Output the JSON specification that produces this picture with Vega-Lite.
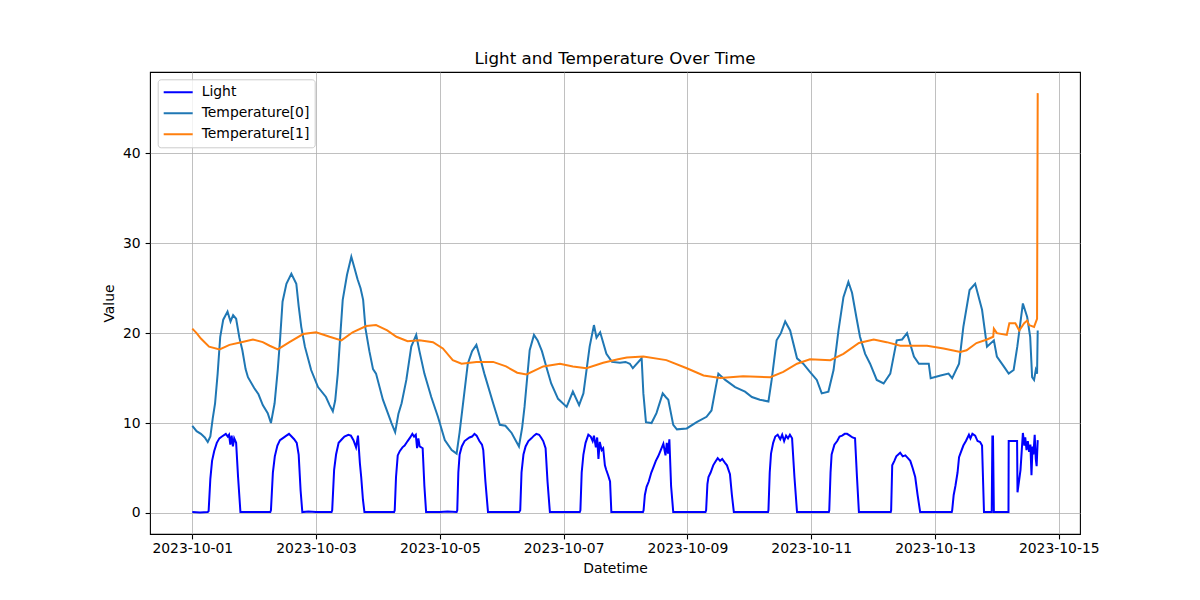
{
"$schema": "https://vega.github.io/schema/vega-lite/v6.json",
"width": 930, "height": 462,
"autosize": {"type": "none"},
"padding": {"left": 150, "top": 72, "right": 120, "bottom": 66},
"background": "white",
"title": {"text": "Light and Temperature Over Time", "fontSize": 16.7, "font": "DejaVu Sans", "fontWeight": "normal", "color": "black", "anchor": "middle", "offset": 4},
"config": {"view": {"stroke": "black", "strokeWidth": 1.1}, "font": "DejaVu Sans"},
"datasets": {
"rows": [
{"Datetime":"2023-10-01T00:00","Series":"Light","Value":0.1},{"Datetime":"2023-10-01T03:00","Series":"Light","Value":0.05},{"Datetime":"2023-10-01T06:00","Series":"Light","Value":0.1},{"Datetime":"2023-10-01T06:20","Series":"Light","Value":0.2},{"Datetime":"2023-10-01T07:00","Series":"Light","Value":3.8},{"Datetime":"2023-10-01T07:40","Series":"Light","Value":5.8},{"Datetime":"2023-10-01T08:30","Series":"Light","Value":6.9},{"Datetime":"2023-10-01T09:30","Series":"Light","Value":7.8},{"Datetime":"2023-10-01T10:30","Series":"Light","Value":8.3},{"Datetime":"2023-10-01T11:30","Series":"Light","Value":8.5},{"Datetime":"2023-10-01T13:00","Series":"Light","Value":8.8},{"Datetime":"2023-10-01T13:45","Series":"Light","Value":8.5},{"Datetime":"2023-10-01T14:15","Series":"Light","Value":8.7},{"Datetime":"2023-10-01T14:45","Series":"Light","Value":7.6},{"Datetime":"2023-10-01T15:15","Series":"Light","Value":8.6},{"Datetime":"2023-10-01T15:45","Series":"Light","Value":7.4},{"Datetime":"2023-10-01T16:15","Series":"Light","Value":8.3},{"Datetime":"2023-10-01T17:00","Series":"Light","Value":7.8},{"Datetime":"2023-10-01T17:45","Series":"Light","Value":4.0},{"Datetime":"2023-10-01T18:40","Series":"Light","Value":0.1},{"Datetime":"2023-10-01T21:00","Series":"Light","Value":0.1},
{"Datetime":"2023-10-02T00:00","Series":"Light","Value":0.1},{"Datetime":"2023-10-02T03:00","Series":"Light","Value":0.1},{"Datetime":"2023-10-02T06:15","Series":"Light","Value":0.1},{"Datetime":"2023-10-02T06:30","Series":"Light","Value":0.3},{"Datetime":"2023-10-02T07:15","Series":"Light","Value":4.5},{"Datetime":"2023-10-02T08:00","Series":"Light","Value":6.3},{"Datetime":"2023-10-02T09:00","Series":"Light","Value":7.5},{"Datetime":"2023-10-02T10:00","Series":"Light","Value":8.1},{"Datetime":"2023-10-02T11:00","Series":"Light","Value":8.3},{"Datetime":"2023-10-02T12:30","Series":"Light","Value":8.6},{"Datetime":"2023-10-02T13:30","Series":"Light","Value":8.8},{"Datetime":"2023-10-02T14:30","Series":"Light","Value":8.5},{"Datetime":"2023-10-02T15:30","Series":"Light","Value":8.2},{"Datetime":"2023-10-02T16:30","Series":"Light","Value":7.8},{"Datetime":"2023-10-02T17:15","Series":"Light","Value":6.5},{"Datetime":"2023-10-02T18:00","Series":"Light","Value":2.5},{"Datetime":"2023-10-02T18:40","Series":"Light","Value":0.1},{"Datetime":"2023-10-02T21:00","Series":"Light","Value":0.15},
{"Datetime":"2023-10-03T00:00","Series":"Light","Value":0.1},{"Datetime":"2023-10-03T03:00","Series":"Light","Value":0.1},{"Datetime":"2023-10-03T06:00","Series":"Light","Value":0.1},{"Datetime":"2023-10-03T06:15","Series":"Light","Value":0.3},{"Datetime":"2023-10-03T07:00","Series":"Light","Value":4.8},{"Datetime":"2023-10-03T07:45","Series":"Light","Value":6.5},{"Datetime":"2023-10-03T08:45","Series":"Light","Value":7.8},{"Datetime":"2023-10-03T10:00","Series":"Light","Value":8.2},{"Datetime":"2023-10-03T11:00","Series":"Light","Value":8.5},{"Datetime":"2023-10-03T12:30","Series":"Light","Value":8.7},{"Datetime":"2023-10-03T13:30","Series":"Light","Value":8.6},{"Datetime":"2023-10-03T14:30","Series":"Light","Value":8.1},{"Datetime":"2023-10-03T15:30","Series":"Light","Value":7.3},{"Datetime":"2023-10-03T16:15","Series":"Light","Value":8.6},{"Datetime":"2023-10-03T17:00","Series":"Light","Value":5.5},{"Datetime":"2023-10-03T17:30","Series":"Light","Value":4.0},{"Datetime":"2023-10-03T18:10","Series":"Light","Value":1.5},{"Datetime":"2023-10-03T18:45","Series":"Light","Value":0.1},{"Datetime":"2023-10-03T21:00","Series":"Light","Value":0.1},
{"Datetime":"2023-10-04T00:00","Series":"Light","Value":0.1},{"Datetime":"2023-10-04T03:00","Series":"Light","Value":0.1},{"Datetime":"2023-10-04T06:15","Series":"Light","Value":0.1},{"Datetime":"2023-10-04T06:30","Series":"Light","Value":0.3},{"Datetime":"2023-10-04T07:00","Series":"Light","Value":4.0},{"Datetime":"2023-10-04T07:40","Series":"Light","Value":6.4},{"Datetime":"2023-10-04T08:30","Series":"Light","Value":6.9},{"Datetime":"2023-10-04T09:30","Series":"Light","Value":7.3},{"Datetime":"2023-10-04T10:20","Series":"Light","Value":7.5},{"Datetime":"2023-10-04T11:30","Series":"Light","Value":8.0},{"Datetime":"2023-10-04T12:30","Series":"Light","Value":8.4},{"Datetime":"2023-10-04T13:20","Series":"Light","Value":8.8},{"Datetime":"2023-10-04T14:00","Series":"Light","Value":8.5},{"Datetime":"2023-10-04T14:40","Series":"Light","Value":8.7},{"Datetime":"2023-10-04T15:10","Series":"Light","Value":7.2},{"Datetime":"2023-10-04T15:40","Series":"Light","Value":8.3},{"Datetime":"2023-10-04T16:10","Series":"Light","Value":7.4},{"Datetime":"2023-10-04T17:20","Series":"Light","Value":7.2},{"Datetime":"2023-10-04T18:00","Series":"Light","Value":3.0},{"Datetime":"2023-10-04T18:40","Series":"Light","Value":0.1},{"Datetime":"2023-10-04T21:00","Series":"Light","Value":0.1},
{"Datetime":"2023-10-05T00:00","Series":"Light","Value":0.1},{"Datetime":"2023-10-05T03:00","Series":"Light","Value":0.15},{"Datetime":"2023-10-05T06:30","Series":"Light","Value":0.1},{"Datetime":"2023-10-05T06:45","Series":"Light","Value":0.3},{"Datetime":"2023-10-05T07:10","Series":"Light","Value":4.5},{"Datetime":"2023-10-05T07:40","Series":"Light","Value":6.5},{"Datetime":"2023-10-05T08:30","Series":"Light","Value":7.4},{"Datetime":"2023-10-05T09:35","Series":"Light","Value":8.0},{"Datetime":"2023-10-05T10:30","Series":"Light","Value":8.2},{"Datetime":"2023-10-05T11:30","Series":"Light","Value":8.4},{"Datetime":"2023-10-05T12:30","Series":"Light","Value":8.5},{"Datetime":"2023-10-05T13:25","Series":"Light","Value":8.8},{"Datetime":"2023-10-05T14:15","Series":"Light","Value":8.6},{"Datetime":"2023-10-05T15:20","Series":"Light","Value":8.0},{"Datetime":"2023-10-05T16:20","Series":"Light","Value":7.6},{"Datetime":"2023-10-05T16:50","Series":"Light","Value":7.0},{"Datetime":"2023-10-05T17:40","Series":"Light","Value":3.5},{"Datetime":"2023-10-05T18:40","Series":"Light","Value":0.1},{"Datetime":"2023-10-05T21:00","Series":"Light","Value":0.1},
{"Datetime":"2023-10-06T00:00","Series":"Light","Value":0.1},{"Datetime":"2023-10-06T03:00","Series":"Light","Value":0.1},{"Datetime":"2023-10-06T06:45","Series":"Light","Value":0.1},{"Datetime":"2023-10-06T07:10","Series":"Light","Value":0.3},{"Datetime":"2023-10-06T07:40","Series":"Light","Value":4.5},{"Datetime":"2023-10-06T08:25","Series":"Light","Value":6.5},{"Datetime":"2023-10-06T09:15","Series":"Light","Value":7.4},{"Datetime":"2023-10-06T10:20","Series":"Light","Value":8.0},{"Datetime":"2023-10-06T11:30","Series":"Light","Value":8.3},{"Datetime":"2023-10-06T12:30","Series":"Light","Value":8.6},{"Datetime":"2023-10-06T13:25","Series":"Light","Value":8.8},{"Datetime":"2023-10-06T14:30","Series":"Light","Value":8.7},{"Datetime":"2023-10-06T15:15","Series":"Light","Value":8.4},{"Datetime":"2023-10-06T16:05","Series":"Light","Value":8.0},{"Datetime":"2023-10-06T17:00","Series":"Light","Value":7.2},{"Datetime":"2023-10-06T17:45","Series":"Light","Value":3.5},{"Datetime":"2023-10-06T18:40","Series":"Light","Value":0.1},{"Datetime":"2023-10-06T21:00","Series":"Light","Value":0.1},
{"Datetime":"2023-10-07T00:00","Series":"Light","Value":0.1},{"Datetime":"2023-10-07T03:00","Series":"Light","Value":0.1},{"Datetime":"2023-10-07T06:15","Series":"Light","Value":0.1},{"Datetime":"2023-10-07T06:30","Series":"Light","Value":0.3},{"Datetime":"2023-10-07T07:00","Series":"Light","Value":4.5},{"Datetime":"2023-10-07T07:40","Series":"Light","Value":6.5},{"Datetime":"2023-10-07T08:30","Series":"Light","Value":7.8},{"Datetime":"2023-10-07T09:35","Series":"Light","Value":8.7},{"Datetime":"2023-10-07T10:30","Series":"Light","Value":8.5},{"Datetime":"2023-10-07T11:15","Series":"Light","Value":8.0},{"Datetime":"2023-10-07T11:45","Series":"Light","Value":8.6},{"Datetime":"2023-10-07T12:30","Series":"Light","Value":7.3},{"Datetime":"2023-10-07T13:00","Series":"Light","Value":8.4},{"Datetime":"2023-10-07T13:30","Series":"Light","Value":6.0},{"Datetime":"2023-10-07T14:00","Series":"Light","Value":7.9},{"Datetime":"2023-10-07T14:45","Series":"Light","Value":7.0},{"Datetime":"2023-10-07T15:20","Series":"Light","Value":7.2},{"Datetime":"2023-10-07T16:00","Series":"Light","Value":5.3},{"Datetime":"2023-10-07T16:30","Series":"Light","Value":4.8},{"Datetime":"2023-10-07T17:15","Series":"Light","Value":4.2},{"Datetime":"2023-10-07T18:00","Series":"Light","Value":3.5},{"Datetime":"2023-10-07T18:30","Series":"Light","Value":0.1},{"Datetime":"2023-10-07T21:00","Series":"Light","Value":0.1},
{"Datetime":"2023-10-08T00:00","Series":"Light","Value":0.1},{"Datetime":"2023-10-08T03:00","Series":"Light","Value":0.1},{"Datetime":"2023-10-08T06:45","Series":"Light","Value":0.1},{"Datetime":"2023-10-08T07:00","Series":"Light","Value":0.3},{"Datetime":"2023-10-08T07:30","Series":"Light","Value":2.0},{"Datetime":"2023-10-08T08:10","Series":"Light","Value":2.9},{"Datetime":"2023-10-08T09:00","Series":"Light","Value":3.5},{"Datetime":"2023-10-08T10:00","Series":"Light","Value":4.5},{"Datetime":"2023-10-08T10:50","Series":"Light","Value":5.1},{"Datetime":"2023-10-08T11:45","Series":"Light","Value":5.8},{"Datetime":"2023-10-08T12:40","Series":"Light","Value":6.3},{"Datetime":"2023-10-08T13:40","Series":"Light","Value":7.0},{"Datetime":"2023-10-08T14:40","Series":"Light","Value":7.7},{"Datetime":"2023-10-08T15:30","Series":"Light","Value":6.4},{"Datetime":"2023-10-08T16:00","Series":"Light","Value":7.8},{"Datetime":"2023-10-08T16:30","Series":"Light","Value":6.6},{"Datetime":"2023-10-08T17:00","Series":"Light","Value":8.2},{"Datetime":"2023-10-08T17:40","Series":"Light","Value":3.0},{"Datetime":"2023-10-08T18:30","Series":"Light","Value":0.1},{"Datetime":"2023-10-08T21:00","Series":"Light","Value":0.1},
{"Datetime":"2023-10-09T00:00","Series":"Light","Value":0.1},{"Datetime":"2023-10-09T03:00","Series":"Light","Value":0.1},{"Datetime":"2023-10-09T07:00","Series":"Light","Value":0.1},{"Datetime":"2023-10-09T07:15","Series":"Light","Value":0.3},{"Datetime":"2023-10-09T07:45","Series":"Light","Value":3.2},{"Datetime":"2023-10-09T08:10","Series":"Light","Value":4.0},{"Datetime":"2023-10-09T09:00","Series":"Light","Value":4.5},{"Datetime":"2023-10-09T10:00","Series":"Light","Value":5.3},{"Datetime":"2023-10-09T10:50","Series":"Light","Value":5.7},{"Datetime":"2023-10-09T11:45","Series":"Light","Value":6.1},{"Datetime":"2023-10-09T12:40","Series":"Light","Value":5.8},{"Datetime":"2023-10-09T13:30","Series":"Light","Value":6.0},{"Datetime":"2023-10-09T14:30","Series":"Light","Value":5.6},{"Datetime":"2023-10-09T15:20","Series":"Light","Value":5.3},{"Datetime":"2023-10-09T16:30","Series":"Light","Value":4.3},{"Datetime":"2023-10-09T17:15","Series":"Light","Value":2.0},{"Datetime":"2023-10-09T18:00","Series":"Light","Value":0.1},{"Datetime":"2023-10-09T21:00","Series":"Light","Value":0.1},
{"Datetime":"2023-10-10T00:00","Series":"Light","Value":0.1},{"Datetime":"2023-10-10T03:00","Series":"Light","Value":0.1},{"Datetime":"2023-10-10T07:15","Series":"Light","Value":0.1},{"Datetime":"2023-10-10T07:25","Series":"Light","Value":0.3},{"Datetime":"2023-10-10T07:55","Series":"Light","Value":4.5},{"Datetime":"2023-10-10T08:25","Series":"Light","Value":6.6},{"Datetime":"2023-10-10T09:15","Series":"Light","Value":7.8},{"Datetime":"2023-10-10T10:05","Series":"Light","Value":8.5},{"Datetime":"2023-10-10T11:00","Series":"Light","Value":8.7},{"Datetime":"2023-10-10T12:00","Series":"Light","Value":8.2},{"Datetime":"2023-10-10T12:45","Series":"Light","Value":8.7},{"Datetime":"2023-10-10T13:30","Series":"Light","Value":8.0},{"Datetime":"2023-10-10T14:15","Series":"Light","Value":8.6},{"Datetime":"2023-10-10T15:00","Series":"Light","Value":8.3},{"Datetime":"2023-10-10T15:45","Series":"Light","Value":8.7},{"Datetime":"2023-10-10T16:35","Series":"Light","Value":8.3},{"Datetime":"2023-10-10T17:30","Series":"Light","Value":4.0},{"Datetime":"2023-10-10T18:30","Series":"Light","Value":0.1},{"Datetime":"2023-10-10T21:00","Series":"Light","Value":0.1},
{"Datetime":"2023-10-11T00:00","Series":"Light","Value":0.1},{"Datetime":"2023-10-11T03:00","Series":"Light","Value":0.1},{"Datetime":"2023-10-11T06:50","Series":"Light","Value":0.1},{"Datetime":"2023-10-11T07:00","Series":"Light","Value":0.3},{"Datetime":"2023-10-11T07:30","Series":"Light","Value":4.5},{"Datetime":"2023-10-11T07:55","Series":"Light","Value":6.5},{"Datetime":"2023-10-11T09:00","Series":"Light","Value":7.6},{"Datetime":"2023-10-11T10:05","Series":"Light","Value":8.0},{"Datetime":"2023-10-11T11:00","Series":"Light","Value":8.5},{"Datetime":"2023-10-11T12:00","Series":"Light","Value":8.6},{"Datetime":"2023-10-11T13:00","Series":"Light","Value":8.8},{"Datetime":"2023-10-11T13:55","Series":"Light","Value":8.8},{"Datetime":"2023-10-11T15:00","Series":"Light","Value":8.6},{"Datetime":"2023-10-11T16:00","Series":"Light","Value":8.4},{"Datetime":"2023-10-11T17:00","Series":"Light","Value":8.3},{"Datetime":"2023-10-11T17:45","Series":"Light","Value":4.0},{"Datetime":"2023-10-11T18:30","Series":"Light","Value":0.1},{"Datetime":"2023-10-11T21:00","Series":"Light","Value":0.1},
{"Datetime":"2023-10-12T00:00","Series":"Light","Value":0.1},{"Datetime":"2023-10-12T03:00","Series":"Light","Value":0.1},{"Datetime":"2023-10-12T06:50","Series":"Light","Value":0.1},{"Datetime":"2023-10-12T07:00","Series":"Light","Value":0.3},{"Datetime":"2023-10-12T07:25","Series":"Light","Value":5.3},{"Datetime":"2023-10-12T08:15","Series":"Light","Value":5.8},{"Datetime":"2023-10-12T09:00","Series":"Light","Value":6.3},{"Datetime":"2023-10-12T10:30","Series":"Light","Value":6.7},{"Datetime":"2023-10-12T11:30","Series":"Light","Value":6.3},{"Datetime":"2023-10-12T12:30","Series":"Light","Value":6.4},{"Datetime":"2023-10-12T13:30","Series":"Light","Value":6.1},{"Datetime":"2023-10-12T14:25","Series":"Light","Value":5.8},{"Datetime":"2023-10-12T15:20","Series":"Light","Value":5.0},{"Datetime":"2023-10-12T16:20","Series":"Light","Value":4.0},{"Datetime":"2023-10-12T17:15","Series":"Light","Value":2.0},{"Datetime":"2023-10-12T18:15","Series":"Light","Value":0.1},{"Datetime":"2023-10-12T21:00","Series":"Light","Value":0.1},
{"Datetime":"2023-10-13T00:00","Series":"Light","Value":0.1},{"Datetime":"2023-10-13T03:00","Series":"Light","Value":0.1},{"Datetime":"2023-10-13T06:30","Series":"Light","Value":0.1},{"Datetime":"2023-10-13T06:40","Series":"Light","Value":0.3},{"Datetime":"2023-10-13T07:15","Series":"Light","Value":2.0},{"Datetime":"2023-10-13T07:55","Series":"Light","Value":3.0},{"Datetime":"2023-10-13T08:45","Series":"Light","Value":4.5},{"Datetime":"2023-10-13T09:20","Series":"Light","Value":6.2},{"Datetime":"2023-10-13T09:50","Series":"Light","Value":6.6},{"Datetime":"2023-10-13T11:00","Series":"Light","Value":7.5},{"Datetime":"2023-10-13T12:00","Series":"Light","Value":8.0},{"Datetime":"2023-10-13T13:10","Series":"Light","Value":8.7},{"Datetime":"2023-10-13T13:45","Series":"Light","Value":8.3},{"Datetime":"2023-10-13T14:30","Series":"Light","Value":8.8},{"Datetime":"2023-10-13T15:35","Series":"Light","Value":8.6},{"Datetime":"2023-10-13T16:30","Series":"Light","Value":8.0},{"Datetime":"2023-10-13T17:30","Series":"Light","Value":7.9},{"Datetime":"2023-10-13T18:15","Series":"Light","Value":7.5},{"Datetime":"2023-10-13T19:00","Series":"Light","Value":0.1},{"Datetime":"2023-10-13T22:00","Series":"Light","Value":0.1},{"Datetime":"2023-10-13T22:15","Series":"Light","Value":8.5},{"Datetime":"2023-10-13T22:30","Series":"Light","Value":8.5},{"Datetime":"2023-10-13T22:50","Series":"Light","Value":0.1},
{"Datetime":"2023-10-14T00:00","Series":"Light","Value":0.1},{"Datetime":"2023-10-14T03:00","Series":"Light","Value":0.1},{"Datetime":"2023-10-14T04:30","Series":"Light","Value":0.1},{"Datetime":"2023-10-14T04:35","Series":"Light","Value":8.0},{"Datetime":"2023-10-14T06:00","Series":"Light","Value":8.0},{"Datetime":"2023-10-14T07:50","Series":"Light","Value":8.0},{"Datetime":"2023-10-14T08:00","Series":"Light","Value":2.3},{"Datetime":"2023-10-14T09:10","Series":"Light","Value":4.8},{"Datetime":"2023-10-14T10:05","Series":"Light","Value":8.9},{"Datetime":"2023-10-14T10:40","Series":"Light","Value":7.5},{"Datetime":"2023-10-14T11:00","Series":"Light","Value":8.4},{"Datetime":"2023-10-14T11:30","Series":"Light","Value":7.0},{"Datetime":"2023-10-14T12:00","Series":"Light","Value":8.0},{"Datetime":"2023-10-14T12:30","Series":"Light","Value":6.8},{"Datetime":"2023-10-14T13:00","Series":"Light","Value":7.6},{"Datetime":"2023-10-14T13:25","Series":"Light","Value":4.2},{"Datetime":"2023-10-14T13:50","Series":"Light","Value":7.4},{"Datetime":"2023-10-14T14:10","Series":"Light","Value":6.5},{"Datetime":"2023-10-14T14:40","Series":"Light","Value":8.7},{"Datetime":"2023-10-14T15:05","Series":"Light","Value":6.0},{"Datetime":"2023-10-14T15:25","Series":"Light","Value":5.2},{"Datetime":"2023-10-14T15:50","Series":"Light","Value":8.1},
{"Datetime":"2023-10-01T00:00","Series":"Temperature[0]","Value":9.7},{"Datetime":"2023-10-01T01:40","Series":"Temperature[0]","Value":9.1},{"Datetime":"2023-10-01T03:20","Series":"Temperature[0]","Value":8.8},{"Datetime":"2023-10-01T04:50","Series":"Temperature[0]","Value":8.4},{"Datetime":"2023-10-01T06:00","Series":"Temperature[0]","Value":7.9},{"Datetime":"2023-10-01T07:00","Series":"Temperature[0]","Value":8.5},{"Datetime":"2023-10-01T07:55","Series":"Temperature[0]","Value":10.5},{"Datetime":"2023-10-01T08:50","Series":"Temperature[0]","Value":12.2},{"Datetime":"2023-10-01T09:50","Series":"Temperature[0]","Value":15.5},{"Datetime":"2023-10-01T10:50","Series":"Temperature[0]","Value":19.6},{"Datetime":"2023-10-01T12:00","Series":"Temperature[0]","Value":21.5},{"Datetime":"2023-10-01T13:40","Series":"Temperature[0]","Value":22.4},{"Datetime":"2023-10-01T14:50","Series":"Temperature[0]","Value":21.3},{"Datetime":"2023-10-01T15:50","Series":"Temperature[0]","Value":22.0},{"Datetime":"2023-10-01T17:00","Series":"Temperature[0]","Value":21.6},{"Datetime":"2023-10-01T18:15","Series":"Temperature[0]","Value":19.5},{"Datetime":"2023-10-01T19:25","Series":"Temperature[0]","Value":18.1},{"Datetime":"2023-10-01T20:40","Series":"Temperature[0]","Value":16.0},{"Datetime":"2023-10-01T21:35","Series":"Temperature[0]","Value":15.1},
{"Datetime":"2023-10-02T00:00","Series":"Temperature[0]","Value":13.9},{"Datetime":"2023-10-02T01:40","Series":"Temperature[0]","Value":13.2},{"Datetime":"2023-10-02T03:20","Series":"Temperature[0]","Value":12.0},{"Datetime":"2023-10-02T05:15","Series":"Temperature[0]","Value":11.1},{"Datetime":"2023-10-02T06:30","Series":"Temperature[0]","Value":10.0},{"Datetime":"2023-10-02T07:55","Series":"Temperature[0]","Value":12.2},{"Datetime":"2023-10-02T09:10","Series":"Temperature[0]","Value":16.0},{"Datetime":"2023-10-02T10:05","Series":"Temperature[0]","Value":19.5},{"Datetime":"2023-10-02T11:00","Series":"Temperature[0]","Value":23.5},{"Datetime":"2023-10-02T12:30","Series":"Temperature[0]","Value":25.5},{"Datetime":"2023-10-02T14:25","Series":"Temperature[0]","Value":26.6},{"Datetime":"2023-10-02T16:20","Series":"Temperature[0]","Value":25.5},{"Datetime":"2023-10-02T17:15","Series":"Temperature[0]","Value":23.0},{"Datetime":"2023-10-02T18:15","Series":"Temperature[0]","Value":20.7},{"Datetime":"2023-10-02T19:40","Series":"Temperature[0]","Value":18.5},{"Datetime":"2023-10-02T22:05","Series":"Temperature[0]","Value":15.9},
{"Datetime":"2023-10-03T00:45","Series":"Temperature[0]","Value":14.0},{"Datetime":"2023-10-03T03:50","Series":"Temperature[0]","Value":12.9},{"Datetime":"2023-10-03T05:15","Series":"Temperature[0]","Value":12.0},{"Datetime":"2023-10-03T06:30","Series":"Temperature[0]","Value":11.3},{"Datetime":"2023-10-03T07:25","Series":"Temperature[0]","Value":12.5},{"Datetime":"2023-10-03T08:25","Series":"Temperature[0]","Value":15.5},{"Datetime":"2023-10-03T09:20","Series":"Temperature[0]","Value":19.5},{"Datetime":"2023-10-03T10:20","Series":"Temperature[0]","Value":23.7},{"Datetime":"2023-10-03T12:00","Series":"Temperature[0]","Value":26.5},{"Datetime":"2023-10-03T13:40","Series":"Temperature[0]","Value":28.5},{"Datetime":"2023-10-03T14:50","Series":"Temperature[0]","Value":27.3},{"Datetime":"2023-10-03T16:05","Series":"Temperature[0]","Value":26.0},{"Datetime":"2023-10-03T17:15","Series":"Temperature[0]","Value":25.0},{"Datetime":"2023-10-03T18:15","Series":"Temperature[0]","Value":23.7},{"Datetime":"2023-10-03T19:10","Series":"Temperature[0]","Value":20.5},{"Datetime":"2023-10-03T20:40","Series":"Temperature[0]","Value":18.0},{"Datetime":"2023-10-03T22:05","Series":"Temperature[0]","Value":16.0},{"Datetime":"2023-10-03T23:15","Series":"Temperature[0]","Value":15.5},
{"Datetime":"2023-10-04T01:55","Series":"Temperature[0]","Value":12.6},{"Datetime":"2023-10-04T03:50","Series":"Temperature[0]","Value":11.1},{"Datetime":"2023-10-04T05:15","Series":"Temperature[0]","Value":10.0},{"Datetime":"2023-10-04T06:40","Series":"Temperature[0]","Value":9.0},{"Datetime":"2023-10-04T07:55","Series":"Temperature[0]","Value":11.0},{"Datetime":"2023-10-04T09:10","Series":"Temperature[0]","Value":12.2},{"Datetime":"2023-10-04T11:00","Series":"Temperature[0]","Value":14.8},{"Datetime":"2023-10-04T12:55","Series":"Temperature[0]","Value":18.5},{"Datetime":"2023-10-04T14:50","Series":"Temperature[0]","Value":19.8},{"Datetime":"2023-10-04T16:05","Series":"Temperature[0]","Value":18.0},{"Datetime":"2023-10-04T18:00","Series":"Temperature[0]","Value":15.5},{"Datetime":"2023-10-04T20:40","Series":"Temperature[0]","Value":12.9},{"Datetime":"2023-10-04T23:15","Series":"Temperature[0]","Value":10.7},
{"Datetime":"2023-10-05T01:55","Series":"Temperature[0]","Value":8.1},{"Datetime":"2023-10-05T04:35","Series":"Temperature[0]","Value":7.0},{"Datetime":"2023-10-05T06:30","Series":"Temperature[0]","Value":6.6},{"Datetime":"2023-10-05T07:40","Series":"Temperature[0]","Value":9.0},{"Datetime":"2023-10-05T08:50","Series":"Temperature[0]","Value":11.8},{"Datetime":"2023-10-05T10:50","Series":"Temperature[0]","Value":16.6},{"Datetime":"2023-10-05T12:30","Series":"Temperature[0]","Value":18.0},{"Datetime":"2023-10-05T14:10","Series":"Temperature[0]","Value":18.7},{"Datetime":"2023-10-05T15:35","Series":"Temperature[0]","Value":17.3},{"Datetime":"2023-10-05T17:15","Series":"Temperature[0]","Value":15.5},{"Datetime":"2023-10-05T20:40","Series":"Temperature[0]","Value":12.2},{"Datetime":"2023-10-05T23:15","Series":"Temperature[0]","Value":9.8},
{"Datetime":"2023-10-06T01:25","Series":"Temperature[0]","Value":9.7},{"Datetime":"2023-10-06T03:50","Series":"Temperature[0]","Value":8.9},{"Datetime":"2023-10-06T06:40","Series":"Temperature[0]","Value":7.4},{"Datetime":"2023-10-06T07:55","Series":"Temperature[0]","Value":9.5},{"Datetime":"2023-10-06T08:50","Series":"Temperature[0]","Value":11.8},{"Datetime":"2023-10-06T10:50","Series":"Temperature[0]","Value":18.1},{"Datetime":"2023-10-06T12:30","Series":"Temperature[0]","Value":19.8},{"Datetime":"2023-10-06T13:55","Series":"Temperature[0]","Value":19.2},{"Datetime":"2023-10-06T15:35","Series":"Temperature[0]","Value":18.0},{"Datetime":"2023-10-06T17:15","Series":"Temperature[0]","Value":16.3},{"Datetime":"2023-10-06T19:10","Series":"Temperature[0]","Value":14.4},{"Datetime":"2023-10-06T21:50","Series":"Temperature[0]","Value":12.7},
{"Datetime":"2023-10-07T01:10","Series":"Temperature[0]","Value":11.8},{"Datetime":"2023-10-07T03:35","Series":"Temperature[0]","Value":13.5},{"Datetime":"2023-10-07T06:00","Series":"Temperature[0]","Value":12.0},{"Datetime":"2023-10-07T07:40","Series":"Temperature[0]","Value":13.3},{"Datetime":"2023-10-07T10:05","Series":"Temperature[0]","Value":18.5},{"Datetime":"2023-10-07T11:45","Series":"Temperature[0]","Value":20.9},{"Datetime":"2023-10-07T12:45","Series":"Temperature[0]","Value":19.5},{"Datetime":"2023-10-07T14:10","Series":"Temperature[0]","Value":20.1},{"Datetime":"2023-10-07T16:35","Series":"Temperature[0]","Value":17.7},{"Datetime":"2023-10-07T18:45","Series":"Temperature[0]","Value":16.8},{"Datetime":"2023-10-07T21:50","Series":"Temperature[0]","Value":16.7},
{"Datetime":"2023-10-08T00:00","Series":"Temperature[0]","Value":16.8},{"Datetime":"2023-10-08T01:40","Series":"Temperature[0]","Value":16.6},{"Datetime":"2023-10-08T02:50","Series":"Temperature[0]","Value":16.1},{"Datetime":"2023-10-08T06:15","Series":"Temperature[0]","Value":17.2},{"Datetime":"2023-10-08T06:55","Series":"Temperature[0]","Value":13.3},{"Datetime":"2023-10-08T07:55","Series":"Temperature[0]","Value":10.1},{"Datetime":"2023-10-08T10:05","Series":"Temperature[0]","Value":10.0},{"Datetime":"2023-10-08T12:00","Series":"Temperature[0]","Value":11.1},{"Datetime":"2023-10-08T14:25","Series":"Temperature[0]","Value":13.3},{"Datetime":"2023-10-08T15:35","Series":"Temperature[0]","Value":12.9},{"Datetime":"2023-10-08T16:35","Series":"Temperature[0]","Value":12.6},{"Datetime":"2023-10-08T18:30","Series":"Temperature[0]","Value":9.8},{"Datetime":"2023-10-08T19:55","Series":"Temperature[0]","Value":9.3},{"Datetime":"2023-10-08T23:45","Series":"Temperature[0]","Value":9.4},
{"Datetime":"2023-10-09T03:35","Series":"Temperature[0]","Value":10.1},{"Datetime":"2023-10-09T07:25","Series":"Temperature[0]","Value":10.7},{"Datetime":"2023-10-09T09:20","Series":"Temperature[0]","Value":11.4},{"Datetime":"2023-10-09T11:00","Series":"Temperature[0]","Value":14.0},{"Datetime":"2023-10-09T12:00","Series":"Temperature[0]","Value":15.5},{"Datetime":"2023-10-09T14:40","Series":"Temperature[0]","Value":14.8},{"Datetime":"2023-10-09T18:30","Series":"Temperature[0]","Value":14.0},{"Datetime":"2023-10-09T22:20","Series":"Temperature[0]","Value":13.5},
{"Datetime":"2023-10-10T01:00","Series":"Temperature[0]","Value":12.9},{"Datetime":"2023-10-10T04:05","Series":"Temperature[0]","Value":12.6},{"Datetime":"2023-10-10T07:25","Series":"Temperature[0]","Value":12.4},{"Datetime":"2023-10-10T08:40","Series":"Temperature[0]","Value":14.8},{"Datetime":"2023-10-10T10:35","Series":"Temperature[0]","Value":19.2},{"Datetime":"2023-10-10T12:15","Series":"Temperature[0]","Value":20.0},{"Datetime":"2023-10-10T13:55","Series":"Temperature[0]","Value":21.3},{"Datetime":"2023-10-10T15:50","Series":"Temperature[0]","Value":20.3},{"Datetime":"2023-10-10T18:30","Series":"Temperature[0]","Value":17.2},{"Datetime":"2023-10-10T20:55","Series":"Temperature[0]","Value":16.6},{"Datetime":"2023-10-10T23:30","Series":"Temperature[0]","Value":15.7},
{"Datetime":"2023-10-11T02:10","Series":"Temperature[0]","Value":14.8},{"Datetime":"2023-10-11T04:05","Series":"Temperature[0]","Value":13.3},{"Datetime":"2023-10-11T06:40","Series":"Temperature[0]","Value":13.5},{"Datetime":"2023-10-11T08:40","Series":"Temperature[0]","Value":15.9},{"Datetime":"2023-10-11T10:35","Series":"Temperature[0]","Value":20.3},{"Datetime":"2023-10-11T12:30","Series":"Temperature[0]","Value":24.0},{"Datetime":"2023-10-11T14:25","Series":"Temperature[0]","Value":25.7},{"Datetime":"2023-10-11T15:50","Series":"Temperature[0]","Value":24.5},{"Datetime":"2023-10-11T17:30","Series":"Temperature[0]","Value":21.8},{"Datetime":"2023-10-11T18:55","Series":"Temperature[0]","Value":19.6},{"Datetime":"2023-10-11T20:55","Series":"Temperature[0]","Value":17.7},{"Datetime":"2023-10-11T22:50","Series":"Temperature[0]","Value":16.6},
{"Datetime":"2023-10-12T01:25","Series":"Temperature[0]","Value":14.8},{"Datetime":"2023-10-12T04:05","Series":"Temperature[0]","Value":14.4},{"Datetime":"2023-10-12T06:40","Series":"Temperature[0]","Value":15.5},{"Datetime":"2023-10-12T09:10","Series":"Temperature[0]","Value":19.2},{"Datetime":"2023-10-12T11:15","Series":"Temperature[0]","Value":19.3},{"Datetime":"2023-10-12T13:10","Series":"Temperature[0]","Value":20.0},{"Datetime":"2023-10-12T15:50","Series":"Temperature[0]","Value":17.4},{"Datetime":"2023-10-12T17:45","Series":"Temperature[0]","Value":16.6},{"Datetime":"2023-10-12T21:35","Series":"Temperature[0]","Value":16.6},{"Datetime":"2023-10-12T22:20","Series":"Temperature[0]","Value":15.0},
{"Datetime":"2023-10-13T02:10","Series":"Temperature[0]","Value":15.3},{"Datetime":"2023-10-13T05:15","Series":"Temperature[0]","Value":15.5},{"Datetime":"2023-10-13T06:40","Series":"Temperature[0]","Value":15.0},{"Datetime":"2023-10-13T09:20","Series":"Temperature[0]","Value":16.6},{"Datetime":"2023-10-13T11:00","Series":"Temperature[0]","Value":20.7},{"Datetime":"2023-10-13T13:25","Series":"Temperature[0]","Value":24.8},{"Datetime":"2023-10-13T15:35","Series":"Temperature[0]","Value":25.5},{"Datetime":"2023-10-13T18:15","Series":"Temperature[0]","Value":22.6},{"Datetime":"2023-10-13T20:10","Series":"Temperature[0]","Value":18.5},{"Datetime":"2023-10-13T22:50","Series":"Temperature[0]","Value":19.2},
{"Datetime":"2023-10-14T00:00","Series":"Temperature[0]","Value":17.4},{"Datetime":"2023-10-14T02:40","Series":"Temperature[0]","Value":16.3},{"Datetime":"2023-10-14T04:35","Series":"Temperature[0]","Value":15.5},{"Datetime":"2023-10-14T06:30","Series":"Temperature[0]","Value":15.9},{"Datetime":"2023-10-14T07:55","Series":"Temperature[0]","Value":18.5},{"Datetime":"2023-10-14T10:05","Series":"Temperature[0]","Value":23.3},{"Datetime":"2023-10-14T11:45","Series":"Temperature[0]","Value":21.8},{"Datetime":"2023-10-14T12:55","Series":"Temperature[0]","Value":19.6},{"Datetime":"2023-10-14T13:40","Series":"Temperature[0]","Value":15.1},{"Datetime":"2023-10-14T14:25","Series":"Temperature[0]","Value":14.8},{"Datetime":"2023-10-14T15:05","Series":"Temperature[0]","Value":15.9},{"Datetime":"2023-10-14T15:35","Series":"Temperature[0]","Value":15.5},{"Datetime":"2023-10-14T15:50","Series":"Temperature[0]","Value":20.3},
{"Datetime":"2023-10-01T00:00","Series":"Temperature[1]","Value":20.5},{"Datetime":"2023-10-01T01:40","Series":"Temperature[1]","Value":20.0},{"Datetime":"2023-10-01T03:20","Series":"Temperature[1]","Value":19.4},{"Datetime":"2023-10-01T06:30","Series":"Temperature[1]","Value":18.5},{"Datetime":"2023-10-01T10:35","Series":"Temperature[1]","Value":18.2},{"Datetime":"2023-10-01T14:25","Series":"Temperature[1]","Value":18.7},{"Datetime":"2023-10-01T19:00","Series":"Temperature[1]","Value":19.0},{"Datetime":"2023-10-01T23:30","Series":"Temperature[1]","Value":19.3},
{"Datetime":"2023-10-02T03:20","Series":"Temperature[1]","Value":19.0},{"Datetime":"2023-10-02T06:00","Series":"Temperature[1]","Value":18.6},{"Datetime":"2023-10-02T09:10","Series":"Temperature[1]","Value":18.2},{"Datetime":"2023-10-02T13:40","Series":"Temperature[1]","Value":19.0},{"Datetime":"2023-10-02T19:00","Series":"Temperature[1]","Value":19.9},
{"Datetime":"2023-10-03T00:00","Series":"Temperature[1]","Value":20.1},{"Datetime":"2023-10-03T05:15","Series":"Temperature[1]","Value":19.6},{"Datetime":"2023-10-03T09:50","Series":"Temperature[1]","Value":19.2},{"Datetime":"2023-10-03T14:10","Series":"Temperature[1]","Value":20.1},{"Datetime":"2023-10-03T19:25","Series":"Temperature[1]","Value":20.8},{"Datetime":"2023-10-03T23:15","Series":"Temperature[1]","Value":20.9},
{"Datetime":"2023-10-04T00:45","Series":"Temperature[1]","Value":20.7},{"Datetime":"2023-10-04T03:35","Series":"Temperature[1]","Value":20.3},{"Datetime":"2023-10-04T07:10","Series":"Temperature[1]","Value":19.6},{"Datetime":"2023-10-04T11:30","Series":"Temperature[1]","Value":19.1},{"Datetime":"2023-10-04T16:05","Series":"Temperature[1]","Value":19.2},{"Datetime":"2023-10-04T21:20","Series":"Temperature[1]","Value":19.0},
{"Datetime":"2023-10-05T01:10","Series":"Temperature[1]","Value":18.3},{"Datetime":"2023-10-05T05:00","Series":"Temperature[1]","Value":17.0},{"Datetime":"2023-10-05T08:25","Series":"Temperature[1]","Value":16.6},{"Datetime":"2023-10-05T14:10","Series":"Temperature[1]","Value":16.8},{"Datetime":"2023-10-05T20:40","Series":"Temperature[1]","Value":16.8},
{"Datetime":"2023-10-06T01:40","Series":"Temperature[1]","Value":16.3},{"Datetime":"2023-10-06T06:00","Series":"Temperature[1]","Value":15.6},{"Datetime":"2023-10-06T09:35","Series":"Temperature[1]","Value":15.4},{"Datetime":"2023-10-06T16:05","Series":"Temperature[1]","Value":16.3},{"Datetime":"2023-10-06T22:35","Series":"Temperature[1]","Value":16.6},
{"Datetime":"2023-10-07T03:35","Series":"Temperature[1]","Value":16.3},{"Datetime":"2023-10-07T08:50","Series":"Temperature[1]","Value":16.1},{"Datetime":"2023-10-07T15:20","Series":"Temperature[1]","Value":16.7},{"Datetime":"2023-10-07T21:05","Series":"Temperature[1]","Value":17.1},
{"Datetime":"2023-10-08T00:30","Series":"Temperature[1]","Value":17.3},{"Datetime":"2023-10-08T06:55","Series":"Temperature[1]","Value":17.4},{"Datetime":"2023-10-08T15:50","Series":"Temperature[1]","Value":17.0},{"Datetime":"2023-10-08T23:45","Series":"Temperature[1]","Value":16.1},
{"Datetime":"2023-10-09T06:15","Series":"Temperature[1]","Value":15.3},{"Datetime":"2023-10-09T12:45","Series":"Temperature[1]","Value":15.0},{"Datetime":"2023-10-09T21:35","Series":"Temperature[1]","Value":15.2},
{"Datetime":"2023-10-10T08:10","Series":"Temperature[1]","Value":15.1},{"Datetime":"2023-10-10T13:10","Series":"Temperature[1]","Value":15.7},{"Datetime":"2023-10-10T18:30","Series":"Temperature[1]","Value":16.6},{"Datetime":"2023-10-10T23:30","Series":"Temperature[1]","Value":17.1},
{"Datetime":"2023-10-11T07:25","Series":"Temperature[1]","Value":17.0},{"Datetime":"2023-10-11T12:30","Series":"Temperature[1]","Value":17.7},{"Datetime":"2023-10-11T18:30","Series":"Temperature[1]","Value":18.9},
{"Datetime":"2023-10-12T00:15","Series":"Temperature[1]","Value":19.3},{"Datetime":"2023-10-12T05:15","Series":"Temperature[1]","Value":19.0},{"Datetime":"2023-10-12T10:35","Series":"Temperature[1]","Value":18.6},{"Datetime":"2023-10-12T20:55","Series":"Temperature[1]","Value":18.6},
{"Datetime":"2023-10-13T03:20","Series":"Temperature[1]","Value":18.3},{"Datetime":"2023-10-13T09:50","Series":"Temperature[1]","Value":17.9},{"Datetime":"2023-10-13T12:15","Series":"Temperature[1]","Value":18.1},{"Datetime":"2023-10-13T16:05","Series":"Temperature[1]","Value":18.9},{"Datetime":"2023-10-13T20:10","Series":"Temperature[1]","Value":19.3},{"Datetime":"2023-10-13T22:35","Series":"Temperature[1]","Value":19.6},{"Datetime":"2023-10-13T22:50","Series":"Temperature[1]","Value":20.5},
{"Datetime":"2023-10-14T00:00","Series":"Temperature[1]","Value":20.0},{"Datetime":"2023-10-14T03:50","Series":"Temperature[1]","Value":19.8},{"Datetime":"2023-10-14T04:50","Series":"Temperature[1]","Value":21.1},{"Datetime":"2023-10-14T07:10","Series":"Temperature[1]","Value":21.1},{"Datetime":"2023-10-14T08:40","Series":"Temperature[1]","Value":20.3},{"Datetime":"2023-10-14T10:35","Series":"Temperature[1]","Value":21.1},{"Datetime":"2023-10-14T11:45","Series":"Temperature[1]","Value":21.4},{"Datetime":"2023-10-14T12:30","Series":"Temperature[1]","Value":20.9},{"Datetime":"2023-10-14T14:25","Series":"Temperature[1]","Value":20.7},{"Datetime":"2023-10-14T15:35","Series":"Temperature[1]","Value":21.6},{"Datetime":"2023-10-14T15:50","Series":"Temperature[1]","Value":46.7}
]
},
"data": {"name": "rows"},
"mark": {"type": "line", "strokeWidth": 2, "interpolate": "linear"},
"encoding": {
"x": {"field": "Datetime", "type": "temporal",
 "scale": {"domain": [{"year": 2023, "month": 9, "date": 30, "hours": 7, "minutes": 36}, {"year": 2023, "month": 10, "date": 15, "hours": 8, "minutes": 14}]},
 "axis": {"values": [{"year": 2023, "month": 10, "date": 1}, {"year": 2023, "month": 10, "date": 3}, {"year": 2023, "month": 10, "date": 5}, {"year": 2023, "month": 10, "date": 7}, {"year": 2023, "month": 10, "date": 9}, {"year": 2023, "month": 10, "date": 11}, {"year": 2023, "month": 10, "date": 13}, {"year": 2023, "month": 10, "date": 15}],
  "format": "%Y-%m-%d", "labelFontSize": 13.9, "labelColor": "black", "labelFont": "DejaVu Sans", "labelFlush": false, "labelOverlap": false,
  "tickColor": "black", "tickSize": 4.9, "tickWidth": 1.1, "labelPadding": 3, "domain": false,
  "grid": true, "gridColor": "#b0b0b0", "gridWidth": 0.8,
  "title": "Datetime", "titleFontSize": 13.9, "titleFont": "DejaVu Sans", "titleFontWeight": "normal", "titleColor": "black", "titlePadding": 6}},
"y": {"field": "Value", "type": "quantitative",
 "scale": {"domain": [-2.34, 49.05], "nice": false, "zero": false},
 "axis": {"values": [0, 10, 20, 30, 40], "labelFontSize": 13.9, "labelColor": "black", "labelFont": "DejaVu Sans",
  "tickColor": "black", "tickSize": 4.9, "tickWidth": 1.1, "labelPadding": 4.9, "domain": false,
  "grid": true, "gridColor": "#b0b0b0", "gridWidth": 0.8,
  "title": "Value", "titleFontSize": 13.9, "titleFont": "DejaVu Sans", "titleFontWeight": "normal", "titleColor": "black", "titlePadding": 6}},
"color": {"field": "Series", "type": "nominal",
 "scale": {"domain": ["Light", "Temperature[0]", "Temperature[1]"], "range": ["#0000ff", "#1f77b4", "#ff7f0e"]},
 "legend": {"orient": "none", "legendX": 7.7, "legendY": 7.3, "title": null, "symbolType": "stroke", "symbolSize": 841, "symbolStrokeWidth": 2,
  "labelFontSize": 13.9, "labelFont": "DejaVu Sans", "labelColor": "black", "fillColor": "rgba(255,255,255,0.8)", "strokeColor": "#cccccc", "cornerRadius": 3,
  "padding": 5, "rowPadding": 5, "clipHeight": 16, "labelOffset": 8, "labelLimit": 300}}
}
}
